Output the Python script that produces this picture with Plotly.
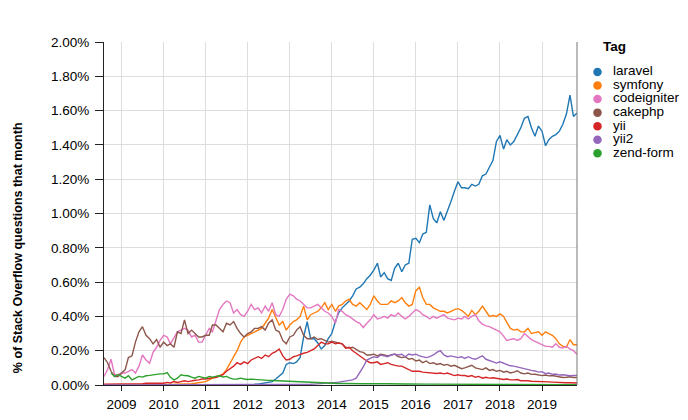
import plotly.graph_objects as go
import pandas as pd

# monthly share of Stack Overflow questions (%), Aug 2008 .. Nov 2019
months = pd.date_range('2008-08-01', '2019-11-01', freq='MS')

laravel = [
    0, 0, 0, 0, 0,  # 2008
    0, 0, 0, 0, 0, 0, 0, 0, 0, 0, 0, 0,  # 2009
    0, 0, 0, 0, 0, 0, 0, 0, 0, 0, 0, 0,  # 2010
    0, 0, 0, 0, 0, 0, 0.001, 0.001, 0.001, 0.002, 0.002, 0.002,  # 2011
    0.003, 0.003, 0.004, 0.005, 0.008, 0.012, 0.015, 0.02, 0.035, 0.05, 0.07, 0.12,  # 2012
    0.13, 0.125, 0.135, 0.16, 0.28, 0.37, 0.27, 0.27, 0.245, 0.21, 0.23, 0.27,  # 2013
    0.30, 0.37, 0.42, 0.45, 0.47, 0.49, 0.52, 0.56, 0.57, 0.59, 0.62, 0.64,  # 2014
    0.67, 0.71, 0.63, 0.655, 0.62, 0.61, 0.68, 0.71, 0.66, 0.70, 0.71, 0.85,  # 2015
    0.855, 0.83, 0.88, 0.89, 1.05, 0.97, 0.945, 1.01, 0.96, 1.01, 1.07, 1.13,  # 2016
    1.185, 1.15, 1.15, 1.145, 1.17, 1.16, 1.17, 1.22, 1.23, 1.27, 1.31, 1.42,  # 2017
    1.455, 1.375, 1.43, 1.40, 1.42, 1.46, 1.50, 1.555, 1.566, 1.50, 1.45, 1.51,  # 2018
    1.48, 1.395, 1.43, 1.45, 1.46, 1.48, 1.52, 1.58, 1.69, 1.566, 1.586,  # 2019
]

symfony = [
    0, 0, 0, 0, 0,
    0.001, 0.001, 0.001, 0.001, 0.001, 0.002, 0.002, 0.002, 0.002, 0.002, 0.003, 0.003,
    0.003, 0.003, 0.004, 0.004, 0.005, 0.005, 0.006, 0.007, 0.008, 0.01, 0.012, 0.015,
    0.02, 0.03, 0.04, 0.05, 0.055, 0.065, 0.09, 0.13, 0.17, 0.20, 0.25, 0.28,
    0.29, 0.30, 0.31, 0.32, 0.33, 0.36, 0.39, 0.44, 0.39, 0.35, 0.37, 0.32,
    0.35, 0.37, 0.38, 0.40, 0.46, 0.38, 0.41, 0.42, 0.43, 0.45, 0.48, 0.44,
    0.47, 0.43, 0.46, 0.47, 0.49, 0.50, 0.47, 0.46, 0.48, 0.46, 0.44, 0.47,
    0.52, 0.49, 0.47, 0.47, 0.47, 0.49, 0.48, 0.49, 0.51, 0.48, 0.46, 0.47,
    0.55, 0.57, 0.51, 0.47, 0.47, 0.45, 0.44, 0.43, 0.43, 0.42, 0.43, 0.44,
    0.445, 0.435, 0.42, 0.40, 0.435, 0.41, 0.43, 0.46, 0.43, 0.40, 0.405, 0.40,
    0.415, 0.40, 0.365, 0.33, 0.32, 0.325, 0.31, 0.31, 0.33, 0.30, 0.305, 0.31,
    0.29, 0.31, 0.30, 0.29, 0.27, 0.24, 0.225, 0.22, 0.265, 0.235, 0.235,
]

codeigniter = [
    0.05, 0.09, 0.15, 0.06, 0.06,
    0.07, 0.07, 0.08, 0.09, 0.07, 0.11, 0.175, 0.146, 0.127, 0.19, 0.22, 0.26,
    0.29, 0.28, 0.24, 0.28, 0.31, 0.32, 0.33, 0.32, 0.28, 0.29, 0.25, 0.25,
    0.29, 0.33, 0.31, 0.38, 0.44, 0.47, 0.49, 0.48, 0.42, 0.44, 0.41, 0.40,
    0.43, 0.47, 0.44, 0.45, 0.42, 0.46, 0.43, 0.48, 0.41, 0.40, 0.44, 0.50,
    0.53, 0.52, 0.50, 0.49, 0.47, 0.45, 0.45, 0.46, 0.47, 0.45, 0.43, 0.42,
    0.40, 0.36, 0.44, 0.43, 0.41, 0.40, 0.385, 0.37, 0.36, 0.335, 0.36, 0.38,
    0.41, 0.385, 0.39, 0.40, 0.39, 0.41, 0.40, 0.42, 0.40, 0.385, 0.40, 0.42,
    0.44, 0.43, 0.41, 0.40, 0.385, 0.40, 0.39, 0.40, 0.41, 0.39, 0.385, 0.38,
    0.39, 0.385, 0.40, 0.385, 0.40, 0.41, 0.375, 0.355, 0.345, 0.34, 0.33, 0.32,
    0.31, 0.285, 0.26, 0.265, 0.27, 0.26, 0.27, 0.30, 0.28, 0.265, 0.255, 0.245,
    0.235, 0.225, 0.225, 0.22, 0.24, 0.22, 0.215, 0.225, 0.21, 0.20, 0.18,
]

cakephp = [
    0.16, 0.13, 0.08, 0.05, 0.05,
    0.07, 0.09, 0.16, 0.17, 0.25, 0.31, 0.34, 0.29, 0.27, 0.24, 0.265, 0.22,
    0.25, 0.23, 0.24, 0.22, 0.31, 0.30, 0.38, 0.30, 0.32, 0.30, 0.28, 0.28,
    0.29, 0.29, 0.35, 0.35, 0.33, 0.31, 0.36, 0.35, 0.37, 0.33, 0.30, 0.28,
    0.30, 0.31, 0.33, 0.33, 0.34, 0.32, 0.36, 0.38, 0.32, 0.31, 0.26, 0.24,
    0.28, 0.29, 0.32, 0.34, 0.29, 0.27, 0.27, 0.28, 0.265, 0.27, 0.26, 0.25,
    0.255, 0.25, 0.245, 0.24, 0.22, 0.215, 0.22, 0.205, 0.195, 0.19, 0.175, 0.175,
    0.18, 0.17, 0.18, 0.175, 0.17, 0.175, 0.18, 0.165, 0.16, 0.165, 0.15, 0.155,
    0.14, 0.145, 0.13, 0.14, 0.125, 0.13, 0.12, 0.125, 0.115, 0.12, 0.11, 0.115,
    0.105, 0.095, 0.10, 0.11, 0.115, 0.10, 0.095, 0.09, 0.10, 0.085, 0.09, 0.08,
    0.085, 0.075, 0.08, 0.07, 0.075, 0.083, 0.07, 0.065, 0.07, 0.062, 0.063, 0.06,
    0.055, 0.058, 0.053, 0.055, 0.05, 0.045, 0.044, 0.045, 0.048, 0.044, 0.044,
]

yii = [
    0.004, 0.004, 0.005, 0.005, 0.005,
    0.005, 0.005, 0.006, 0.006, 0.007, 0.008, 0.008, 0.01, 0.01, 0.012, 0.013, 0.014,
    0.01, 0.015, 0.012, 0.02, 0.015, 0.02, 0.025, 0.02, 0.025, 0.028, 0.03, 0.035,
    0.035, 0.04, 0.042, 0.044, 0.05, 0.06, 0.08, 0.095, 0.11, 0.13, 0.12, 0.135,
    0.125, 0.146, 0.155, 0.165, 0.155, 0.175, 0.165, 0.185, 0.195, 0.21, 0.17, 0.146,
    0.15, 0.165, 0.17, 0.18, 0.185, 0.19, 0.20, 0.21, 0.23, 0.25, 0.24, 0.24,
    0.25, 0.24, 0.245, 0.24, 0.215, 0.22, 0.20, 0.185, 0.165, 0.155, 0.14, 0.13,
    0.13, 0.135, 0.12, 0.125, 0.13, 0.12, 0.115, 0.11, 0.11, 0.10, 0.09, 0.08,
    0.08, 0.08, 0.075, 0.073, 0.07, 0.07, 0.067, 0.07, 0.065, 0.07, 0.06, 0.055,
    0.06, 0.055, 0.055, 0.05, 0.055, 0.045, 0.05, 0.04, 0.045, 0.04, 0.042, 0.04,
    0.035, 0.032, 0.035, 0.03, 0.03, 0.032, 0.025, 0.027, 0.025, 0.022, 0.022, 0.02,
    0.02, 0.018, 0.018, 0.017, 0.015, 0.015, 0.014, 0.013, 0.013, 0.012, 0.012,
]

yii2 = [
    0, 0, 0, 0, 0,
    0, 0, 0, 0, 0, 0, 0, 0, 0, 0, 0, 0,
    0, 0, 0, 0, 0, 0, 0, 0, 0, 0, 0, 0,
    0, 0, 0, 0, 0, 0, 0, 0, 0, 0, 0, 0,
    0, 0, 0, 0, 0, 0, 0, 0, 0, 0, 0, 0,
    0, 0, 0, 0, 0.002, 0.003, 0.004, 0.005, 0.006, 0.008, 0.01, 0.012,
    0.013, 0.015, 0.017, 0.02, 0.022, 0.025, 0.03, 0.04, 0.07, 0.105, 0.145, 0.155,
    0.165, 0.16, 0.175, 0.17, 0.165, 0.175, 0.18, 0.175, 0.179, 0.165, 0.18, 0.175,
    0.18, 0.17, 0.165, 0.16, 0.165, 0.175, 0.19, 0.20, 0.175, 0.165, 0.17, 0.165,
    0.16, 0.165, 0.155, 0.165, 0.155, 0.15, 0.16, 0.17, 0.15, 0.142, 0.135, 0.128,
    0.135, 0.127, 0.12, 0.112, 0.11, 0.105, 0.10, 0.092, 0.088, 0.085, 0.082, 0.075,
    0.078, 0.066, 0.07, 0.062, 0.064, 0.058, 0.06, 0.056, 0.054, 0.055, 0.056,
]

zend_form = [
    None, None, 0.07, 0.05, 0.06,
    0.05, 0.04, 0.054, 0.03, 0.04, 0.05, 0.046, 0.054, 0.056, 0.06, 0.063, 0.065,
    0.065, 0.072, 0.045, 0.03, 0.04, 0.06, 0.055, 0.054, 0.046, 0.04, 0.05, 0.044,
    0.04, 0.05, 0.046, 0.05, 0.054, 0.047, 0.05, 0.04, 0.034, 0.035, 0.04, 0.035,
    0.032, 0.034, 0.032, 0.03, 0.03, 0.028, 0.027, 0.026, 0.025, 0.024, 0.022, 0.02,
    0.02, 0.018, 0.017, 0.016, 0.015, 0.015, 0.013, 0.012, 0.012, 0.011, 0.01, 0.01,
    0.01, 0.01, 0.009, 0.009, 0.008, 0.009, 0.008, 0.008, 0.008, 0.007, 0.008, 0.007,
    0.008, 0.007, 0.008, 0.007, 0.007, 0.006, 0.007, 0.006, 0.006, 0.006, 0.006, 0.005,
    0.006, 0.005, 0.006, 0.005, 0.005, 0.005, 0.005, 0.004, 0.005, 0.004, 0.004, 0.004,
    0.004, 0.004, 0.004, 0.003, 0.004, 0.004, 0.003, 0.004, 0.003, 0.003, 0.003, 0.003,
    0.003, 0.003, 0.003, 0.003, 0.002, 0.003, 0.003, 0.002, 0.003, 0.002, 0.002, 0.002,
    0.002, 0.002, 0.002, 0.002, 0.002, 0.002, 0.002, 0.002, 0.002, 0.002, 0.002,
]

tags = ['laravel', 'symfony', 'codeigniter', 'cakephp', 'yii', 'yii2', 'zend-form']
series = [laravel, symfony, codeigniter, cakephp, yii, yii2, zend_form]
colors = ['#1f77b4', '#ff7f0e', '#e377c2', '#8c564b', '#d62728', '#9467bd', '#2ca02c']

font = 'Liberation Sans, Arial, Helvetica, sans-serif'

# the page body adds an 8 px margin, so the figure is 16 px smaller than the window
W, H = 672, 404
L, T, B = 96, 34, 24
PLOT_W = 473
area_w = W - L
area_h = H - T - B

# legend column (own hidden axes: pixels from its left edge / rows from the first entry)
LEG_LEFT = 582
ROW = 13.65
FIRST_ROW = 30.3   # px below the top of the plot area
DOT_X, TEXT_X, TITLE_X = 7.5, 23, 11

fig = go.Figure()

for tag, values, color in zip(tags, series, colors):
    fig.add_trace(go.Scatter(
        x=months, y=values, mode='lines', name=tag,
        line=dict(color=color, width=1.4),
        showlegend=False
    ))

rows = list(range(len(tags)))
fig.add_trace(go.Scatter(
    x=[DOT_X for _ in tags], y=rows, mode='markers',
    marker=dict(color=colors, size=8.5),
    xaxis='x2', yaxis='y2', showlegend=False, hoverinfo='skip'
))
fig.add_trace(go.Scatter(
    x=[TEXT_X for _ in tags], y=rows, mode='text', text=tags,
    textposition='middle right', textfont=dict(size=13.5, color='#000'),
    xaxis='x2', yaxis='y2', showlegend=False, hoverinfo='skip'
))

fig.update_layout(
    width=W, height=H, autosize=False,
    margin=dict(l=L, r=0, t=T, b=B),
    plot_bgcolor='white', paper_bgcolor='white',
    font=dict(family=font, size=13.5, color='#000'),
    showlegend=False,
    xaxis=dict(
        domain=[0, PLOT_W / area_w],
        type='date', range=['2008-08-01', '2019-11-01'],
        tick0='2009-01-01', dtick='M12', tickformat='%Y',
        showgrid=True, gridcolor='#ddd', gridwidth=1,
        showline=True, linecolor='#222', linewidth=1,
        ticks='outside', ticklen=5, tickcolor='#222',
        ticklabelstandoff=2,
        tickfont=dict(size=13.5), zeroline=False
    ),
    yaxis=dict(
        range=[0, 2.0], dtick=0.2, tickformat='.2f', ticksuffix='%',
        showgrid=True, gridcolor='#ddd', gridwidth=1,
        showline=True, linecolor='#222', linewidth=1,
        ticks='outside', ticklen=8, tickcolor='#222',
        ticklabelstandoff=3,
        tickfont=dict(size=13.5), zeroline=False
    ),
    xaxis2=dict(
        domain=[(LEG_LEFT - L) / area_w, 1], range=[0, W - LEG_LEFT],
        anchor='y2', visible=False, fixedrange=True
    ),
    yaxis2=dict(
        domain=[0, 1],
        range=[(area_h - FIRST_ROW) / ROW, -FIRST_ROW / ROW],
        anchor='x2', visible=False, fixedrange=True
    ),
)

# legend title
fig.add_annotation(
    text='<b>Tag</b>', xref='x2', yref='y2', x=TITLE_X, y=(5 - FIRST_ROW) / ROW,
    xanchor='left', yanchor='middle', showarrow=False,
    font=dict(size=13.5, color='#000')
)

# y axis title (sits a bit below the middle of the axis, as in the original)
fig.add_annotation(
    text='<b>% of Stack Overflow questions that month</b>',
    xref='paper', yref='paper', x=(10 - L) / area_w, y=138 / area_h,
    xanchor='center', yanchor='middle', textangle=-90, showarrow=False,
    font=dict(size=12.5, color='#000')
)

# right edge of the view
fig.add_shape(type='line', xref='x domain', yref='y domain', x0=1, x1=1, y0=0, y1=1,
              line=dict(color='#777', width=1))

fig.write_html("out.html")
